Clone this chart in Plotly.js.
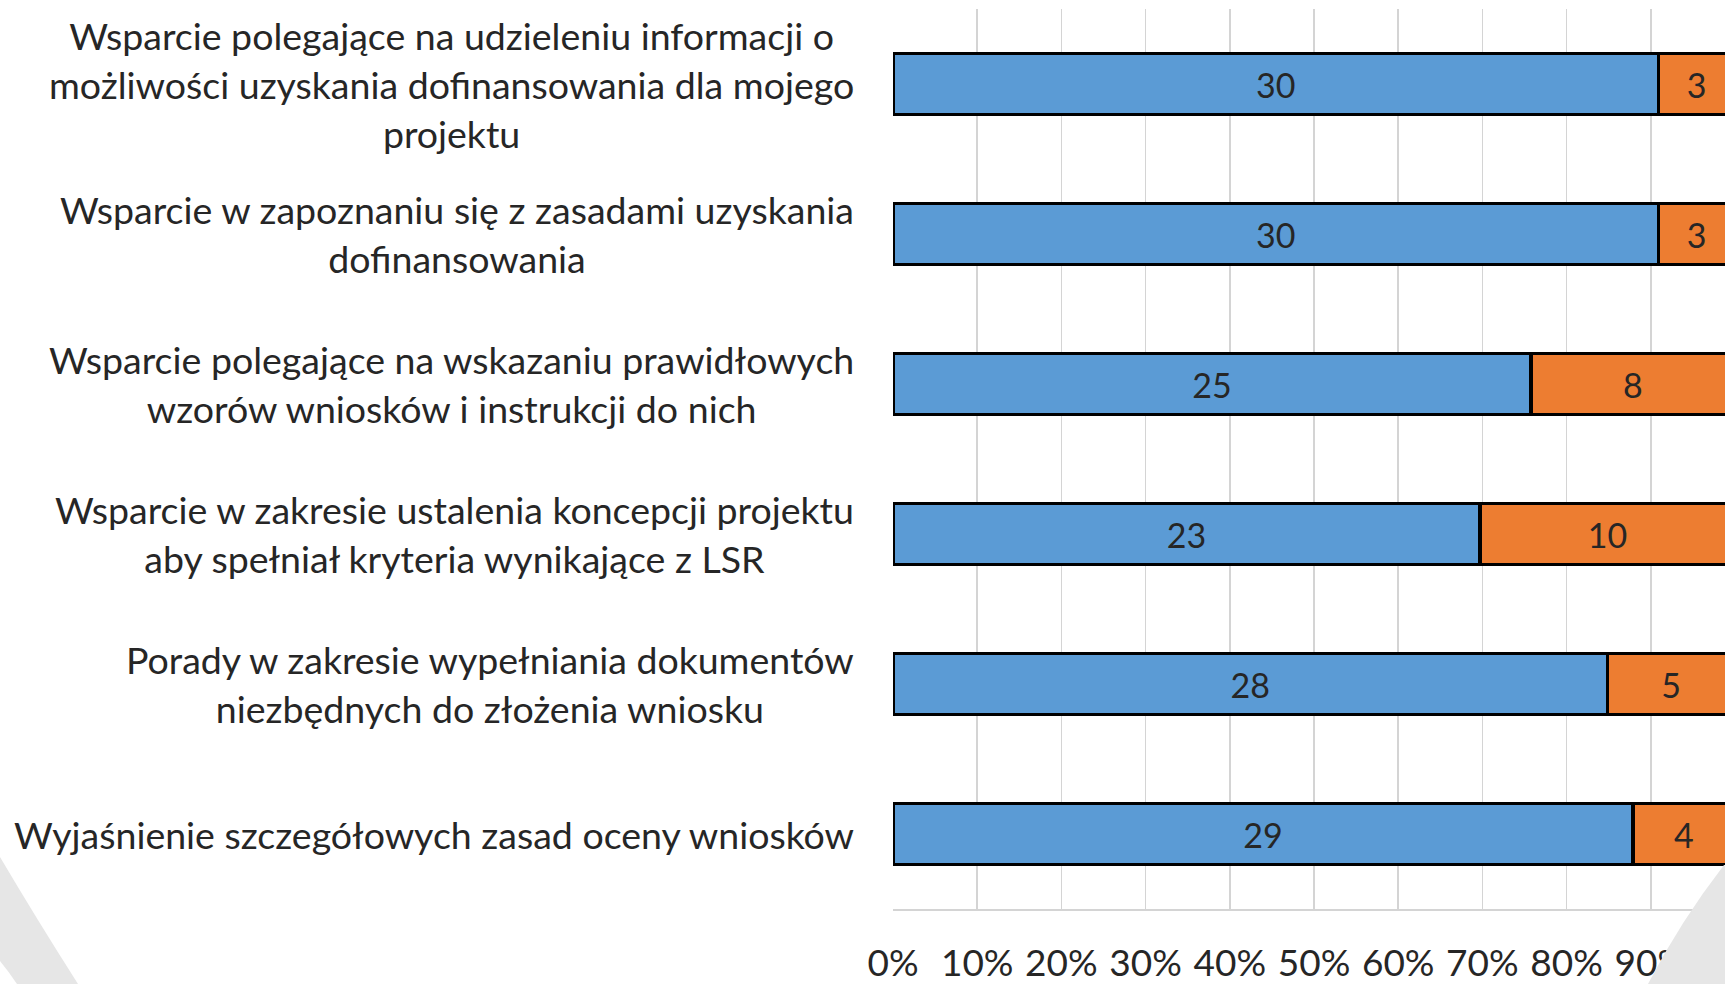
<!DOCTYPE html>
<html>
<head>
<meta charset="utf-8">
<script src="https://cdn.plot.ly/plotly-3.0.1.min.js"></script>
<style>
  html, body { margin: 0; padding: 0; background: #ffffff; overflow: hidden; width: 1725px; height: 984px; }
  #chart { width: 1760px; height: 984px; }
</style>
</head>
<body>
<div id="chart"></div>
<script>
// ---- data ----
const categories = [
  "Wsparcie polegające na udzieleniu informacji o<br>możliwości uzyskania dofinansowania dla mojego<br>projektu",
  "Wsparcie w zapoznaniu się z zasadami uzyskania<br>dofinansowania",
  "Wsparcie polegające na wskazaniu prawidłowych<br>wzorów wniosków i instrukcji do nich",
  "Wsparcie w zakresie ustalenia koncepcji projektu<br>aby spełniał kryteria wynikające z LSR",
  "Porady w zakresie wypełniania dokumentów<br>niezbędnych do złożenia wniosku",
  "Wyjaśnienie szczegółowych zasad oceny wniosków"
];
const seriesBlue = [30, 30, 25, 23, 28, 29];
const seriesOrange = [3, 3, 8, 10, 5, 4];
const tickValues = [0, 10, 20, 30, 40, 50, 60, 70, 80, 90, 100];
const tickLabels = ["0%", "10%", "20%", "30%", "40%", "50%", "60%", "70%", "80%", "90%", "100%"];

// ---- layout geometry (pixels) ----
const W = 1760, H = 984;
const L = 893, R = 1735, T = 9, B = 909;
const pw = R - L, ph = B - T;
const px = x => (x - L) / pw;
const py = y => 1 - (y - T) / ph;

const textColor = "#262626";
const fontFam = "Lato, 'Noto Sans', sans-serif";

const common = {
  type: "bar",
  orientation: "h",
  y: categories,
  width: 0.405,
  textposition: "inside",
  insidetextanchor: "middle",
  textangle: 0,
  constraintext: "none",
  textfont: { family: fontFam, size: 34, color: textColor },
  hoverinfo: "skip"
};

const traces = [
  Object.assign({}, common, {
    name: "A",
    x: seriesBlue,
    text: seriesBlue.map(String),
    marker: { color: "#5B9BD5", line: { color: "#000000", width: 3.5 } }
  }),
  Object.assign({}, common, {
    name: "B",
    x: seriesOrange,
    text: seriesOrange.map(String),
    marker: { color: "#ED7D31", line: { color: "#000000", width: 3.5 } }
  })
];

const annotations = categories.map(c => ({
  xref: "paper", yref: "y",
  x: px(856), y: c,
  xanchor: "right", yanchor: "middle",
  align: "center",
  text: c,
  showarrow: false,
  font: { family: fontFam, size: 37.5, color: textColor }
}));

const gray = "#e6e6e6";
function pathPx(cmds) {
  return cmds.map(c => {
    if (typeof c === "string") return c;
    return px(c[0]).toFixed(5) + "," + py(c[1]).toFixed(5);
  }).join(" ");
}
const shapes = [
  {
    type: "path", xref: "paper", yref: "paper", layer: "above",
    fillcolor: gray, line: { width: 0 },
    path: pathPx(["M", [0, 857], "Q", [36, 918], [78, 984], "L", [17, 984], "Q", [9, 972], [0, 961], "Z"])
  },
  {
    type: "path", xref: "paper", yref: "paper", layer: "above",
    fillcolor: gray, line: { width: 0 },
    path: pathPx(["M", [1724, 865], "Q", [1680, 922], [1648, 984], "L", [1760, 984], "L", [1760, 865], "Z"])
  }
];

const layout = {
  width: W, height: H,
  margin: { l: L, r: W - R, t: T, b: H - B, pad: 0 },
  paper_bgcolor: "#ffffff",
  plot_bgcolor: "#ffffff",
  barmode: "stack",
  barnorm: "percent",
  showlegend: false,
  xaxis: {
    range: [0, 100],
    tickmode: "array",
    tickvals: tickValues,
    ticktext: tickLabels,
    showgrid: true,
    gridcolor: "#d4d4d4",
    gridwidth: 1.5,
    zeroline: false,
    showline: true,
    linecolor: "#d4d4d4",
    linewidth: 1.5,
    ticks: "",
    ticklabelstandoff: 21,
    tickfont: { family: fontFam, size: 37, color: textColor },
    fixedrange: true
  },
  yaxis: {
    type: "category",
    range: [5.5, -0.5],
    showgrid: false,
    zeroline: false,
    showline: false,
    showticklabels: false,
    ticks: "",
    fixedrange: true
  },
  annotations: annotations,
  shapes: shapes
};

Plotly.newPlot("chart", traces, layout, { displayModeBar: false, staticPlot: true });
</script>
</body>
</html>
